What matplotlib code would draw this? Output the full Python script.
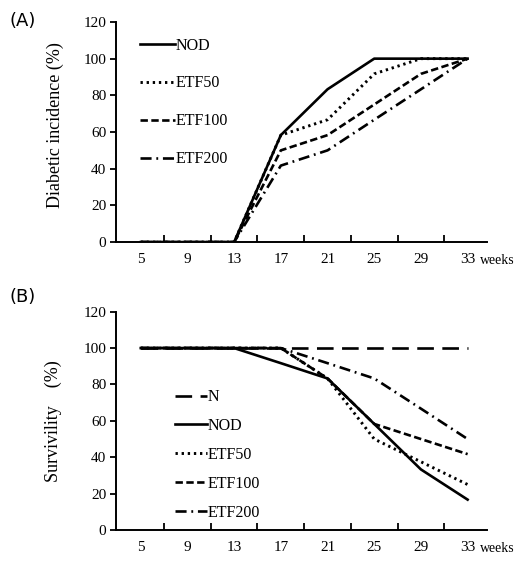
import numpy as np
import matplotlib
matplotlib.use('Agg')
import matplotlib.pyplot as plt
from matplotlib.transforms import offset_copy

# weeks (category axis)
weeks = ['5', '9', '13', '17', '21', '25', '29', '33']

# (A) diabetic incidence (%)
inc_nod = [0, 0, 0, 58.3, 83.3, 100, 100, 100]
inc_etf50 = [0, 0, 0, 58.3, 66.7, 91.7, 100, 100]
inc_etf100 = [0, 0, 0, 50, 58.3, 75, 91.7, 100]
inc_etf200 = [0, 0, 0, 41.7, 50, 66.7, 83.3, 100]

# (B) survivility (%)
sur_n = [100, 100, 100, 100, 100, 100, 100, 100]
sur_nod = [100, 100, 100, 91.7, 83.3, 58.3, 33.3, 16.7]
sur_etf50 = [100, 100, 100, 100, 83.3, 50, 37.5, 25]
sur_etf100 = [100, 100, 100, 100, 83.3, 58.3, 50, 41.7]
sur_etf200 = [100, 100, 100, 100, 91.7, 83.3, 66.7, 50]

plt.rcParams['font.family'] = ['Liberation Serif']
plt.rcParams['font.size'] = 11

lw = 1.9
styles = {
    'N': dict(ls=(0, (6.3, 3.2)), lw=lw),
    'NOD': dict(ls='-', lw=lw),
    'ETF50': dict(ls=(0, (0.8, 1.3)), lw=lw + 0.2),
    'ETF100': dict(ls=(0, (2.8, 1.3)), lw=lw),
    'ETF200': dict(ls=(0, (4.2, 1.8, 0.7, 1.8)), lw=lw),
}

x = np.arange(len(weeks))
fig = plt.figure(figsize=(5.17, 5.63), dpi=100)
axA = fig.add_axes([0.2244, 0.570, 0.718, 0.391])
axB = fig.add_axes([0.2244, 0.0586, 0.718, 0.3878])


def style_axes(ax):
    ax.set_xlim(-0.53, 7.42)
    ax.set_ylim(0, 120)
    ax.set_yticks(range(0, 121, 20))
    ax.spines['top'].set_visible(False)
    ax.spines['right'].set_visible(False)
    ax.spines['left'].set_linewidth(1.4)
    ax.spines['bottom'].set_linewidth(1.4)
    ax.set_xticks(x)
    ax.set_xticklabels(weeks)
    ax.tick_params(axis='x', which='major', length=0, pad=8)
    ax.set_xticks(x[:-1] + 0.5, minor=True)
    ax.tick_params(axis='x', which='minor', direction='in', length=5, width=1.3)
    ax.tick_params(axis='y', direction='out', length=4, width=1.3, pad=3)
    tr = offset_copy(ax.get_xaxis_transform(), fig=fig, x=0, y=-8.3, units='points')
    ax.text(7.27, 0, 'weeks', transform=tr, ha='left', va='top', fontsize=10)


style_axes(axA)
axA.plot(x, inc_nod, color='black', label='NOD', **styles['NOD'])
axA.plot(x, inc_etf50, color='black', label='ETF50', **styles['ETF50'])
axA.plot(x, inc_etf100, color='black', label='ETF100', **styles['ETF100'])
axA.plot(x, inc_etf200, color='black', label='ETF200', **styles['ETF200'])
axA.set_ylabel('Diabetic incidence (%)', fontsize=13)
axA.yaxis.set_label_coords(-0.14, 0.53)
axA.legend(loc='upper left', bbox_to_anchor=(0.255, 0.9475), bbox_transform=fig.transFigure,
           frameon=False, handlelength=2.2, handletextpad=0.05, labelspacing=1.37,
           borderpad=0, fontsize=11.5)

style_axes(axB)
axB.plot(x, sur_n, color='black', label='N', **styles['N'])
axB.plot(x, sur_nod, color='black', label='NOD', **styles['NOD'])
axB.plot(x, sur_etf50, color='black', label='ETF50', **styles['ETF50'])
axB.plot(x, sur_etf100, color='black', label='ETF100', **styles['ETF100'])
axB.plot(x, sur_etf200, color='black', label='ETF200', **styles['ETF200'])
axB.set_ylabel('Survivility    (%)', fontsize=13)
axB.yaxis.set_label_coords(-0.145, 0.5)
axB.legend(loc='upper left', bbox_to_anchor=(0.323, 0.323), bbox_transform=fig.transFigure,
           frameon=False, handlelength=2.0, handletextpad=0.05, labelspacing=0.81,
           borderpad=0, fontsize=11.5)

fig.text(0.018, 0.962, '(A)', fontsize=13, family='DejaVu Sans', va='center')
fig.text(0.018, 0.473, '(B)', fontsize=13, family='DejaVu Sans', va='center')

fig.savefig('out.png', dpi=100)
